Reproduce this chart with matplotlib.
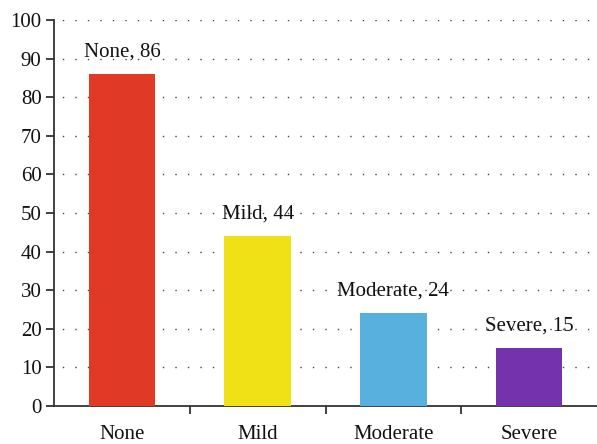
import matplotlib
matplotlib.use("Agg")
import matplotlib.pyplot as plt
from matplotlib.ticker import FixedLocator

categories = ["None", "Mild", "Moderate", "Severe"]
values = [86, 44, 24, 15]
colors = ["#E03A26", "#F0E116", "#57B0DD", "#7433AC"]
yticks = list(range(0, 101, 10))

plt.rcParams['font.family'] = ['Liberation Serif', 'DejaVu Serif']

fig = plt.figure(figsize=(5.97, 4.44), dpi=100)
ax = fig.add_axes([54/597, 38/444, (597-54)/597, (406-20)/444])

x = list(range(len(categories)))
ax.bar(x, values, width=0.49, color=colors, zorder=3)
for xi, v, c in zip(x, values, categories):
    ax.text(xi, v + 5.7, f"{c}, {v}", ha="center", va="center", fontsize=15,
            color="#111111", zorder=4)

ax.set_xlim(-0.5, 3.5)
ax.set_ylim(0, 100)
ax.set_yticks(yticks)
ax.set_xticks(x)
ax.set_xticklabels(categories)
ax.xaxis.set_minor_locator(FixedLocator([0.5, 1.5, 2.5]))
ax.tick_params(axis="x", which="major", length=0, pad=14, labelsize=15, colors="#111111")
ax.tick_params(axis="x", which="minor", length=6, width=1.3, direction="out", color="#333333")
ax.tick_params(axis="y", length=6, width=1.3, direction="out", labelsize=15, pad=3,
               color="#333333", labelcolor="#111111")

ax.yaxis.grid(True, linestyle=(3, (1, 8)), linewidth=1.0, color="#444444", zorder=0)
ax.set_axisbelow(True)
for s in ["top", "right"]:
    ax.spines[s].set_visible(False)
for s in ["left", "bottom"]:
    ax.spines[s].set_linewidth(1.3)
    ax.spines[s].set_color("#333333")

fig.savefig("out.png", dpi=100)
